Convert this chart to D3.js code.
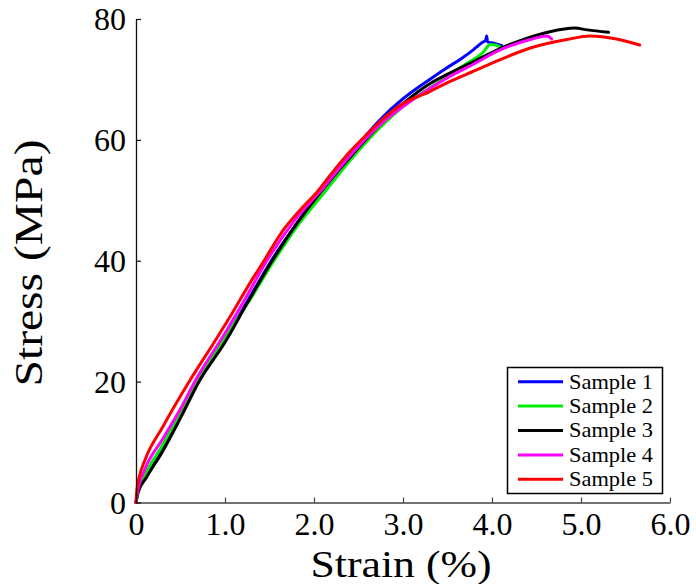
<!DOCTYPE html>
<html><head><meta charset="utf-8">
<script src="https://cdn.jsdelivr.net/npm/d3@7"></script>
<style>body{margin:0;background:#fff}svg{display:block}</style>
</head><body>
<script>
const xTicks = [0, 1, 2, 3, 4, 5, 6];
const xTickLabels = ["0", "1.0", "2.0", "3.0", "4.0", "5.0", "6.0"];
const yTicks = [0, 20, 40, 60, 80];
const seriesNames = ["Sample 1", "Sample 2", "Sample 3", "Sample 4", "Sample 5"];
const seriesColors = ["#0000ff", "#00ee00", "#000000", "#ff00ff", "#ff0000"];

const s1Strain = [0, 0.03, 0.1, 0.3, 0.5, 0.7, 1.0, 1.3, 1.52, 1.8, 2.1, 2.4, 2.74, 3.0, 3.3, 3.49, 3.65, 3.79, 3.89, 3.93, 3.94, 3.95, 4.02, 4.11];
const s1Stress = [0, 2.5, 4.5, 9.3, 14.5, 20.0, 27.0, 34.5, 40.0, 46.0, 52.0, 57.5, 63.3, 66.8, 70.0, 71.9, 73.4, 74.9, 76.1, 76.5, 77.2, 76.2, 76.0, 75.6];

const s2Strain = [0, 0.03, 0.1, 0.3, 0.5, 0.7, 1.0, 1.3, 1.55, 1.8, 2.1, 2.4, 2.74, 3.0, 3.3, 3.49, 3.7, 3.9, 3.98, 4.04, 4.11];
const s2Stress = [0, 2.0, 4.5, 9.5, 14.8, 20.2, 27.2, 34.0, 40.0, 45.5, 51.0, 56.5, 62.0, 65.5, 68.6, 70.5, 72.5, 74.5, 75.8, 75.7, 75.2];

const s3Strain = [0, 0.02, 0.12, 0.3, 0.5, 0.72, 1.0, 1.25, 1.53, 1.8, 2.1, 2.48, 2.74, 3.0, 3.3, 3.49, 3.8, 4.06, 4.43, 4.65, 4.93, 5.07, 5.31];
const s3Stress = [0, 1.5, 4.2, 8.5, 14.0, 20.3, 26.5, 33.0, 40.0, 46.0, 51.8, 58.4, 62.5, 66.0, 69.3, 70.8, 73.0, 74.9, 77.0, 77.9, 78.5, 78.2, 77.8];

const s4Strain = [0, 0.02, 0.1, 0.3, 0.5, 0.66, 1.0, 1.2, 1.47, 1.8, 2.1, 2.4, 2.74, 3.0, 3.3, 3.49, 3.8, 4.08, 4.43, 4.62, 4.67];
const s4Stress = [0, 2.0, 5.5, 10.5, 15.5, 20.0, 28.0, 33.0, 40.0, 47.0, 52.0, 57.3, 62.5, 65.5, 68.5, 70.2, 72.6, 74.8, 76.6, 77.2, 76.7];

const s5Strain = [0, 0.01, 0.03, 0.1, 0.3, 0.61, 0.9, 1.1, 1.28, 1.43, 1.65, 1.85, 2.03, 2.2, 2.4, 2.6, 2.74, 3.0, 3.3, 3.49, 3.8, 4.08, 4.43, 4.84, 5.1, 5.4, 5.66];
const s5Stress = [0, 2.0, 3.8, 7.0, 12.5, 20.3, 27.0, 31.8, 36.3, 39.8, 45.0, 48.5, 51.3, 54.5, 58.0, 61.0, 63.0, 66.0, 68.0, 69.4, 71.4, 73.2, 75.2, 76.6, 77.2, 76.7, 75.7];

const strains = [s1Strain, s2Strain, s3Strain, s4Strain, s5Strain];
const stresses = [s1Stress, s2Stress, s3Stress, s4Stress, s5Stress];

const W = 696, H = 584;
const svg = d3.select("body").append("svg").attr("width", W).attr("height", H);

const x = d3.scaleLinear().domain([0, 6]).range([136, 670]);
const y = d3.scaleLinear().domain([0, 80]).range([502.5, 19]);

const serif = "'Liberation Serif', 'Times New Roman', serif";

// curves
const line = d3.line().x(d => x(d[0])).y(d => y(d[1])).curve(d3.curveMonotoneX);
strains.forEach((xs, i) => {
  const pts = xs.map((v, j) => [v, stresses[i][j]]);
  svg.append("path").datum(pts)
    .attr("d", line)
    .attr("fill", "none")
    .attr("stroke", seriesColors[i])
    .attr("stroke-width", 3)
    .attr("stroke-linejoin", "round")
    .attr("stroke-linecap", "round");
});

// axes
const xAxis = d3.axisBottom(x).tickValues(xTicks).tickFormat((d, i) => xTickLabels[i]).tickSizeInner(-5).tickSizeOuter(0).tickPadding(10);
const gx = svg.append("g").attr("transform", `translate(0,${y(0)})`).call(xAxis);
gx.select(".domain").attr("stroke", "#444").attr("stroke-width", 1.3);
gx.selectAll(".tick line").attr("stroke", "#444").attr("stroke-width", 1.2);
gx.selectAll(".tick text").attr("font-family", serif).attr("font-size", 32).attr("fill", "#000").attr("dy", "0.71em").attr("y", 10);

const yAxis = d3.axisLeft(y).tickValues(yTicks).tickFormat(d3.format("d")).tickSizeInner(-5).tickSizeOuter(0).tickPadding(10);
const gy = svg.append("g").attr("transform", `translate(${x(0)},0)`).call(yAxis);
gy.select(".domain").attr("stroke", "#111").attr("stroke-width", 1.3);
gy.selectAll(".tick line").attr("stroke", "#111").attr("stroke-width", 1.2);
gy.selectAll(".tick text").attr("font-family", serif).attr("font-size", 32).attr("fill", "#000").attr("x", -10).attr("dy", "0.34em");

// axis titles
svg.append("text").attr("x", 401).attr("y", 577).attr("text-anchor", "middle")
  .attr("font-family", serif).attr("font-size", 38).attr("fill", "#000")
  .attr("textLength", 181).attr("lengthAdjust", "spacingAndGlyphs")
  .text("Strain (%)");
svg.append("text").attr("transform", "translate(42,263) rotate(-90)").attr("text-anchor", "middle")
  .attr("font-family", serif).attr("font-size", 39).attr("fill", "#000")
  .attr("textLength", 247).attr("lengthAdjust", "spacingAndGlyphs")
  .text("Stress (MPa)");

// legend
const lg = svg.append("g");
lg.append("rect").attr("x", 507.5).attr("y", 367.5).attr("width", 155).attr("height", 126)
  .attr("fill", "#fff").attr("stroke", "#000").attr("stroke-width", 1.5);
seriesNames.forEach((n, i) => {
  const yy = 381.7 + i * 24.4;
  lg.append("line").attr("x1", 518).attr("x2", 563).attr("y1", yy).attr("y2", yy)
    .attr("stroke", seriesColors[i]).attr("stroke-width", 3);
  lg.append("text").attr("x", 569).attr("y", yy).attr("dy", "0.33em")
    .attr("font-family", serif).attr("font-size", 21).attr("fill", "#000")
    .attr("textLength", 84).attr("lengthAdjust", "spacingAndGlyphs")
    .text(n);
});
</script>
</body></html>
